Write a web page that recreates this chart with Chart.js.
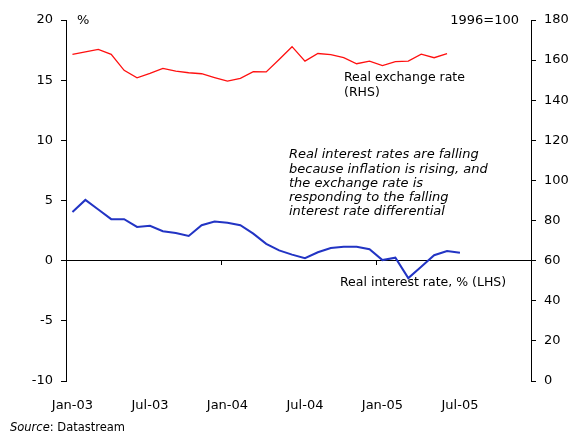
<!DOCTYPE html>
<html>
<head>
<meta charset="utf-8">
<script src="https://cdn.jsdelivr.net/npm/chart.js@4.4.1/dist/chart.umd.min.js"></script>
<style>
html,body{margin:0;padding:0;background:#fff;}
#wrap{position:relative;width:571px;height:432px;}
#src{position:absolute;left:10px;top:420px;font-family:'DejaVu Sans',sans-serif;font-size:11.5px;color:#000;line-height:14px;white-space:nowrap;}
</style>
</head>
<body>
<div id="wrap">
<canvas id="c" width="571" height="432" style="width:571px;height:432px;"></canvas>
<div id="src"><i>Source</i>: Datastream</div>
</div>
<script>
// Monthly categories (axis runs Jan-03 .. Dec-05)
const months = [
  'Jan-03','Feb-03','Mar-03','Apr-03','May-03','Jun-03','Jul-03','Aug-03','Sep-03','Oct-03','Nov-03','Dec-03',
  'Jan-04','Feb-04','Mar-04','Apr-04','May-04','Jun-04','Jul-04','Aug-04','Sep-04','Oct-04','Nov-04','Dec-04',
  'Jan-05','Feb-05','Mar-05','Apr-05','May-05','Jun-05','Jul-05','Aug-05','Sep-05','Oct-05','Nov-05','Dec-05'
];
const xTickLabels = ['Jan-03','Jul-03','Jan-04','Jul-04','Jan-05','Jul-05'];

// Real interest rate, % (LHS) Jan-03 .. Jul-05
const realInterestRate = [
  4.05, 5.05, 4.25, 3.45, 3.45, 2.8, 2.9, 2.45, 2.3, 2.05, 2.95, 3.25,
  3.15, 2.95, 2.25, 1.4, 0.85, 0.5, 0.2, 0.7, 1.05, 1.15, 1.15, 0.95,
  0.05, 0.25, -1.45, -0.5, 0.45, 0.8, 0.65
];
// Real exchange rate, 1996=100 (RHS) Jan-03 .. Jun-05
const realExchangeRate = [
  162.9, 164.1, 165.3, 162.9, 154.9, 151.2, 153.4, 155.9, 154.5, 153.7, 153.2, 151.3,
  149.5, 150.9, 154.2, 154.1, 160.3, 166.7, 159.5, 163.3, 162.7, 161.2, 158.2, 159.5,
  157.3, 159.2, 159.5, 163.0, 161.2, 163.2
];

const FONT = 'DejaVu Sans';

const notes = [
  {lines:['%'], x:77, y:21, italic:false, align:'left', size:13},
  {lines:['1996=100'], x:519, y:21, italic:false, align:'right', size:13},
  {lines:['Real exchange rate','(RHS)'], x:344, y:78, italic:false, align:'left', size:12.5, lh:15},
  {lines:['Real interest rates are falling','because inflation is rising, and','the exchange rate is','responding to the falling','interest rate differential'], x:289, y:155, italic:true, align:'left', size:13, lh:14.2},
  {lines:['Real interest rate, % (LHS)'], x:340, y:283, italic:false, align:'left', size:12.5}
];

const notePlugin = {
  id:'notes',
  afterDraw(chart){
    const ctx = chart.ctx;
    ctx.save();
    ctx.fillStyle = '#000';
    ctx.textBaseline = 'middle';
    notes.forEach(n => {
      ctx.font = (n.italic ? 'italic ' : '') + n.size + 'px "' + FONT + '"';
      ctx.textAlign = n.align;
      n.lines.forEach((t, i) => ctx.fillText(t, n.x, n.y + i * (n.lh || 15)));
    });
    ctx.restore();
  }
};

const tickFont = {family: FONT, size: 13};

new Chart(document.getElementById('c'), {
  type: 'line',
  data: {
    labels: months,
    datasets: [
      {label:'Real exchange rate', data: realExchangeRate, yAxisID:'y1', xAxisID:'x',
       borderColor:'#ff1010', borderWidth:1.3, pointRadius:0, tension:0, fill:false},
      {label:'Real interest rate', data: realInterestRate, yAxisID:'y', xAxisID:'x',
       borderColor:'#2234c4', borderWidth:2, pointRadius:0, tension:0, fill:false}
    ]
  },
  options: {
    responsive:false, animation:false, devicePixelRatio:1,
    layout:{padding:{top:20, left:0, right:0, bottom:0}},
    plugins:{legend:{display:false}, tooltip:{enabled:false}},
    scales:{
      x:{
        type:'category', position:'bottom', offset:true,
        grid:{display:false}, border:{display:false},
        ticks:{autoSkip:false, maxRotation:0, minRotation:0, padding:9, color:'#000', font:tickFont,
          callback:function(v, i){ return xTickLabels.includes(months[i]) ? months[i] : ''; }},
        afterFit:function(s){ s.height = 51; }
      },
      x0:{
        type:'category', position:{y:0}, offset:true,
        grid:{offset:true, drawOnChartArea:false, drawTicks:true, tickLength:4,
          tickColor:function(c){ return (c.index % 12 === 0) ? '#000' : 'rgba(0,0,0,0)'; }},
        border:{display:true, color:'#000', width:1},
        ticks:{display:false}
      },
      y:{
        position:'left', min:-10, max:20,
        ticks:{stepSize:5, padding:8, color:'#000', font:tickFont},
        grid:{drawOnChartArea:false, tickLength:5, tickColor:'#000'},
        border:{color:'#000', width:1},
        afterFit:function(s){ s.width = 66; }
      },
      y1:{
        position:'right', min:0, max:180,
        ticks:{stepSize:20, padding:8, color:'#000', font:tickFont},
        grid:{drawOnChartArea:false, tickLength:5, tickColor:'#000'},
        border:{color:'#000', width:1},
        afterFit:function(s){ s.width = 40; }
      }
    }
  },
  plugins:[notePlugin]
});
</script>
</body>
</html>
